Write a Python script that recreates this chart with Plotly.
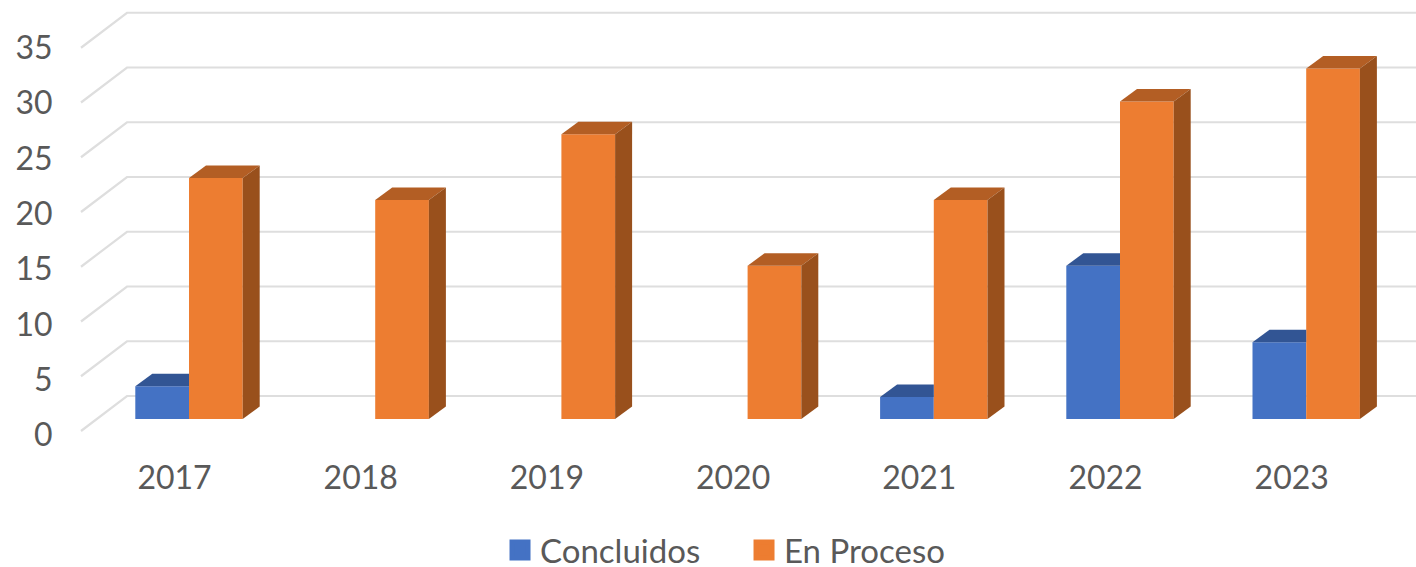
import plotly.graph_objects as go

years = ["2017", "2018", "2019", "2020", "2021", "2022", "2023"]
concluidos = [3, 0, 0, 0, 2, 14, 7]
en_proceso = [22, 20, 26, 14, 20, 29, 32]
y_levels = [0, 5, 10, 15, 20, 25, 30, 35]

BLUE, BLUE_TOP = "#4472C4", "#325594"
ORANGE, ORANGE_TOP, ORANGE_SIDE = "#ED7D31", "#B35E24", "#99501C"
GRID, TEXT = "#DEDEDE", "#595959"
FONT = "Lato"

# pixel-to-axis scale (plot spans 62..1416 horizontally and 0..456 vertically)
XPX, X0, YPX, Y0 = 186.2, 189.0, 10.95, 419.0
def xu(px): return (px - X0) / XPX
def yu(px): return (Y0 - px) / YPX

BAR_W = 53.7 / XPX
DX, DY = 17 / XPX, 12.5 / YPX           # bar depth
WALL_DY = (Y0 - 396) / YPX              # back-wall shift of the floor
WALL_X, EDGE_X = xu(127), xu(81)
EDGE_DY = 35 / YPX

idx = list(range(len(years)))
fig = go.Figure()

fig.add_trace(go.Bar(x=[i - BAR_W / 2 for i in idx], y=concluidos, width=BAR_W, marker=dict(color=BLUE, line_width=0),
                     name="Concluidos", legendgroup="a", showlegend=False, hoverinfo="y"))
fig.add_trace(go.Bar(x=[i + BAR_W / 2 for i in idx], y=en_proceso, width=BAR_W, marker=dict(color=ORANGE, line_width=0),
                     name="En Proceso", legendgroup="b", showlegend=False, hoverinfo="y"))

def poly(xs, ys, color):
    fig.add_trace(go.Scatter(x=xs, y=ys, mode="lines", fill="toself", fillcolor=color, line=dict(width=0),
                             showlegend=False, hoverinfo="skip"))

for i, v in zip(idx, concluidos):
    if v > 0:
        # top face of the blue bar, hidden behind the orange bar from its left edge on
        poly([i - BAR_W, i - BAR_W + DX, i, i, i - BAR_W], [v, v + DY, v + DY, v, v], BLUE_TOP)
for i, v in zip(idx, en_proceso):
    poly([i, i + DX, i + BAR_W + DX, i + BAR_W, i], [v, v + DY, v + DY, v, v], ORANGE_TOP)
    poly([i + BAR_W, i + BAR_W + DX, i + BAR_W + DX, i + BAR_W, i + BAR_W], [v, v + DY, DY, 0, v], ORANGE_SIDE)

# legend entries with larger swatches
for name, color, group in [("Concluidos", BLUE, "a"), ("En Proceso", ORANGE, "b")]:
    fig.add_trace(go.Scatter(x=[None], y=[None], mode="markers", name=name, legendgroup=group,
                             marker=dict(symbol="square", size=16, color=color, line=dict(color=color, width=5))))

shapes = []
for v in y_levels:
    yb = v + WALL_DY
    shapes.append(dict(type="path", xref="x", yref="y", layer="below",
                       path=f"M {EDGE_X},{yb - EDGE_DY} L {WALL_X},{yb} L {xu(1416)},{yb}",
                       line=dict(color=GRID, width=2.2)))

fig.update_layout(
    width=1416, height=567, margin=dict(l=62, r=0, t=0, b=111),
    paper_bgcolor="white", plot_bgcolor="white", barmode="overlay", shapes=shapes,
    font=dict(family=FONT, size=32, color=TEXT),
    xaxis=dict(range=[xu(62), xu(1416)], tickmode="array", tickvals=[i - 14.5 / XPX for i in idx], ticktext=years,
               showgrid=False, zeroline=False, showline=False, ticks=""),
    yaxis=dict(range=[yu(456), yu(0)], tickmode="array", tickvals=[v * 1.01 - 1.46 for v in y_levels],
               ticktext=[str(v) for v in y_levels], showgrid=False, zeroline=False, showline=False,
               ticks="outside", ticklen=2, tickcolor="rgba(0,0,0,0)"),
    legend=dict(orientation="h", x=0.3235, xanchor="left", y=0.03, yanchor="middle", yref="container",
                itemsizing="trace", entrywidth=199, entrywidthmode="pixels", bgcolor="rgba(0,0,0,0)",
                font=dict(family=FONT, size=33, color=TEXT)),
)

fig.write_html("out.html", config=dict(displayModeBar=False), post_script="document.body.style.margin='0';")
